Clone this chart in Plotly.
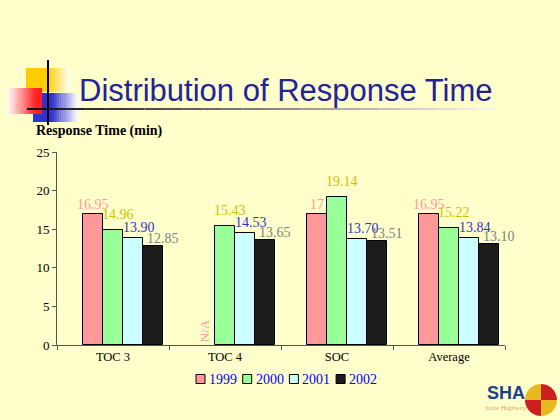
import math
import plotly.graph_objects as go

# ---------------- data ----------------
categories = ["TOC 3", "TOC 4", "SOC", "Average"]
years = ["1999", "2000", "2001", "2002"]
v1999 = [16.95, None, 17, 16.95]
v2000 = [14.96, 15.43, 19.14, 15.22]
v2001 = [13.90, 14.53, 13.70, 13.84]
v2002 = [12.85, 13.65, 13.51, 13.10]
series_values = [v1999, v2000, v2001, v2002]
missing_label = "N/A"
y_ticks = [0, 5, 10, 15, 20, 25]

# ---------------- styles ----------------
BG = "#FFFFCC"
bar_colors = ["#FF9999", "#99FF99", "#CCFFFF", "#1C1C1C"]
label_colors = ["#FF9999", "#C8C400", "#3333CC", "#808080"]
label_xshift = [0, 5, 6, 10]
label_yshift = [1, 7, 2, -1]
SERIF = "Liberation Serif, Times New Roman, serif"
SANS = "Liberation Sans, Arial, sans-serif"

W, H = 560, 420
ML, MR, MT, MB = 57, 55, 152, 75
PW, PH = W - ML - MR, H - MT - MB


def fx(px):
    return (px - ML) / PW


def fy(py):
    return (H - MB - py) / PH


bar_w = 0.18
start = -0.27

fig = go.Figure()
annotations = []
for i, (yr, vals) in enumerate(zip(years, series_values)):
    off = start + i * bar_w
    fig.add_trace(go.Bar(
        x=categories, y=vals, name=yr, width=bar_w, offset=off,
        marker=dict(color=bar_colors[i], line=dict(color="#000000", width=1)),
        showlegend=False, hoverinfo="x+y+name",
    ))
    for j, v in enumerate(vals):
        cx = j + off + bar_w / 2
        if v is None:
            annotations.append(dict(
                x=cx, y=0, xref="x", yref="y", text=missing_label, showarrow=False,
                textangle=-90, yanchor="bottom", xanchor="center", yshift=1,
                font=dict(family=SERIF, size=13, color=label_colors[i])))
            continue
        txt = ("%g" % v) if float(v).is_integer() else "%.2f" % v
        annotations.append(dict(
            x=cx, y=v, xref="x", yref="y", text=txt, showarrow=False,
            yanchor="bottom", xanchor="center", xshift=label_xshift[i],
            yshift=label_yshift[i], borderpad=0,
            font=dict(family=SERIF, size=14, color=label_colors[i])))

# title and axis title
annotations.append(dict(
    x=fx(77), y=fy(90), xref="paper", yref="paper", text="Distribution of Response Time",
    showarrow=False, xanchor="left", yanchor="middle",
    font=dict(family=SANS, size=31, color="#22229A")))
annotations.append(dict(
    x=fx(34), y=fy(131), xref="paper", yref="paper", text="<b>Response Time (min)</b>",
    showarrow=False, xanchor="left", yanchor="middle",
    font=dict(family=SERIF, size=14, color="#000000")))

# manual legend
shapes = []
leg_x0, leg_step, leg_y = 196, 46.7, 379
for i, yr in enumerate(years):
    x0 = leg_x0 + i * leg_step
    shapes.append(dict(type="rect", xref="paper", yref="paper",
                       x0=fx(x0), x1=fx(x0 + 9), y0=fy(leg_y - 4.5), y1=fy(leg_y + 4.5),
                       fillcolor=bar_colors[i], line=dict(color="#000000", width=1)))
    annotations.append(dict(x=fx(x0 + 11), y=fy(leg_y), xref="paper", yref="paper",
                            text=yr, showarrow=False, xanchor="left", yanchor="middle",
                            font=dict(family=SERIF, size=14, color="#0000FF")))


# decorative gradient blocks
def mix(c1, c2, t):
    a = [int(c1[k:k + 2], 16) for k in (1, 3, 5)]
    b = [int(c2[k:k + 2], 16) for k in (1, 3, 5)]
    return "#%02X%02X%02X" % tuple(round(a[k] + (b[k] - a[k]) * t) for k in range(3))


def grad_block(x0, x1, y0, y1, c_solid, solid_to, n=14, reverse=False):
    out = []
    if not reverse:
        out.append(dict(type="rect", xref="paper", yref="paper", x0=fx(x0), x1=fx(solid_to),
                        y0=fy(y1), y1=fy(y0), fillcolor=c_solid, line=dict(width=0)))
        step = (x1 - solid_to) / n
        for k in range(n):
            out.append(dict(type="rect", xref="paper", yref="paper",
                            x0=fx(solid_to + k * step), x1=fx(solid_to + (k + 1) * step + 0.3),
                            y0=fy(y1), y1=fy(y0), fillcolor=mix(c_solid, "#FFFFFF", (k + 0.5) / n),
                            line=dict(width=0)))
    else:
        step = (solid_to - x0) / n
        for k in range(n):
            out.append(dict(type="rect", xref="paper", yref="paper",
                            x0=fx(x0 + k * step), x1=fx(x0 + (k + 1) * step + 0.3),
                            y0=fy(y1), y1=fy(y0), fillcolor=mix("#FFFFFF", c_solid, (k + 0.5) / n),
                            line=dict(width=0)))
        out.append(dict(type="rect", xref="paper", yref="paper", x0=fx(solid_to), x1=fx(x1),
                        y0=fy(y1), y1=fy(y0), fillcolor=c_solid, line=dict(width=0)))
    return out


shapes += grad_block(26, 70, 68, 92, "#FFCC00", 48)
shapes += grad_block(33, 78, 93, 122, "#3333CC", 52)
shapes += grad_block(7, 42, 88, 114, "#FF2020", 36, reverse=True)
shapes.append(dict(type="line", xref="paper", yref="paper", x0=fx(48), x1=fx(48),
                   y0=fy(60), y1=fy(125), line=dict(color="#000000", width=2)))
nseg = 24
for k in range(nseg):
    xa = 27 + (497 - 27) * k / nseg
    xb = 27 + (497 - 27) * (k + 1) / nseg
    shapes.append(dict(type="line", xref="paper", yref="paper", x0=fx(xa), x1=fx(xb),
                       y0=fy(109), y1=fy(109),
                       line=dict(color=mix("#111111", "#F4F4E8", k / (nseg - 1)), width=2)))

# logo
cx0, cy0, r = 541, 400, 16


def wedge(a0, a1, color):
    pts = [(cx0, cy0)]
    for k in range(13):
        a = math.radians(a0 + (a1 - a0) * k / 12)
        pts.append((cx0 + r * math.cos(a), cy0 - r * math.sin(a)))
    path = "M " + " L ".join("%f,%f" % (fx(p[0]), fy(p[1])) for p in pts) + " Z"
    return dict(type="path", xref="paper", yref="paper", path=path,
                fillcolor=color, line=dict(width=0))


shapes += [wedge(90, 180, "#E8B820"), wedge(0, 90, "#CC2020"),
           wedge(180, 270, "#CC2020"), wedge(270, 360, "#E8B820")]
annotations.append(dict(x=fx(506), y=fy(393), xref="paper", yref="paper", text="<b>SHA</b>",
                        showarrow=False, xanchor="center", yanchor="middle",
                        font=dict(family=SANS, size=18, color="#1F3F8F")))
annotations.append(dict(x=fx(506), y=fy(408), xref="paper", yref="paper", text="State Highway",
                        showarrow=False, xanchor="center", yanchor="middle",
                        font=dict(family=SERIF, size=7, color="#E0A070")))

fig.update_layout(
    width=W, height=H, autosize=False,
    margin=dict(l=ML, r=MR, t=MT, b=MB, pad=0),
    paper_bgcolor=BG, plot_bgcolor=BG,
    barmode="overlay", bargap=0,
    annotations=annotations, shapes=shapes,
    xaxis=dict(type="category", tickson="boundaries", ticks="outside", ticklen=4,
               tickcolor="#555555", showline=True, linecolor="#555555", linewidth=1,
               showgrid=False, range=[-0.5, 3.5],
               tickfont=dict(family=SERIF, size=12.5, color="#000000")),
    yaxis=dict(range=[0, 25], tickvals=y_ticks, ticks="outside", ticklen=4,
               tickcolor="#555555", showline=True, linecolor="#555555", linewidth=1,
               showgrid=False, zeroline=False,
               tickfont=dict(family=SERIF, size=13, color="#000000")),
)

fig.write_html("out.html")
